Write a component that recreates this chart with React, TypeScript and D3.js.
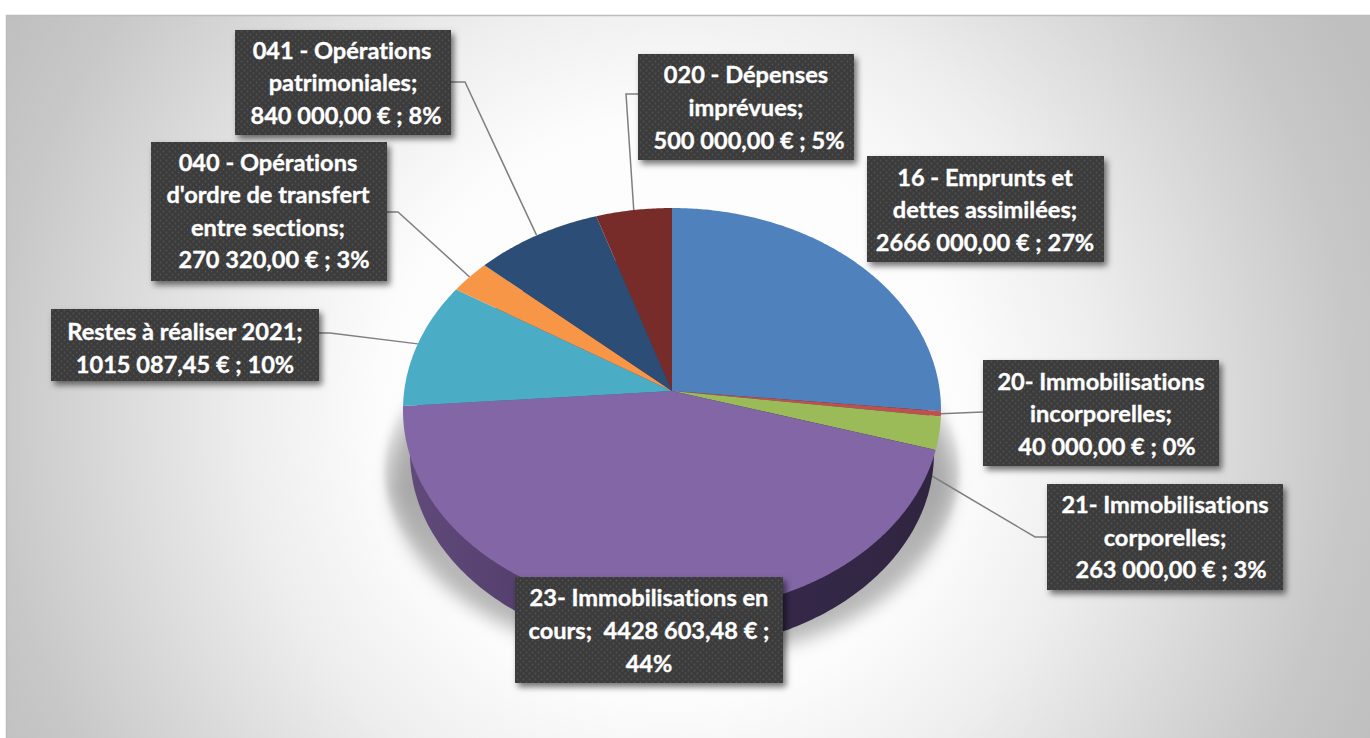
import React from "react";
import * as d3 from "d3";

const WIDTH = 1370;
const HEIGHT = 738;

const categories = [
  "16 - Emprunts et dettes assimilées",
  "20- Immobilisations incorporelles",
  "21- Immobilisations corporelles",
  "23- Immobilisations en cours",
  "Restes à réaliser 2021",
  "040 - Opérations d'ordre de transfert entre sections",
  "041 - Opérations patrimoniales",
  "020 - Dépenses imprévues",
];
const amounts = [2666000, 40000, 263000, 4428603.48, 1015087.45, 270320, 840000, 500000];
const colors = ["#4F81BD", "#C0504D", "#9BBB59", "#8266A5", "#4BACC6", "#F79646", "#2C4D75", "#772C2A"];

const labelLines = [
  ["16 - Emprunts et", "dettes assimilées;", "2666 000,00 € ; 27%"],
  ["20- Immobilisations", "incorporelles;", "40 000,00 € ; 0%"],
  ["21- Immobilisations", "corporelles;", "263 000,00 € ; 3%"],
  ["23- Immobilisations en", "cours;  4428 603,48 € ;", "44%"],
  ["Restes à réaliser 2021;", "1015 087,45 € ; 10%"],
  ["040 - Opérations", "d'ordre de transfert", "entre sections;", "270 320,00 € ; 3%"],
  ["041 - Opérations", "patrimoniales;", "840 000,00 € ; 8%"],
  ["020 - Dépenses", "imprévues;", "500 000,00 € ; 5%"],
];
const labelBoxes = [
  [867, 156, 237, 106],
  [983, 360, 236, 106],
  [1047, 484, 236, 106],
  [515, 577, 268, 106],
  [51, 309, 268, 72],
  [151, 142, 236, 139],
  [235, 30, 216, 105],
  [638, 54, 216, 106],
];
const lineCentres = [
  [985, 985, 985],
  [1101, 1101, 1107],
  [1165, 1165, 1171],
  [649, 649, 649],
  [185, 185],
  [268, 268, 268, 274],
  [342, 343, 346],
  [746, 746, 749],
];
const lineBaselines = [
  [186, 218, 251],
  [390, 422, 455],
  [513, 546, 578],
  [606, 639, 672],
  [340, 373],
  [171, 203, 236, 268],
  [59, 91, 124],
  [83, 116, 149],
];
// Leader lines: box side, elbow, and (when null) the slice's own rim midpoint
const leaderStarts: (number[] | null)[] = [null, [983, 412], [1047, 537], null, [319, 333], [387, 212], [451, 82], [638, 94]];
const leaderElbows: (number[] | null)[] = [null, null, [1035, 537], null, [330, 333], [398, 212], [465, 82], [626, 94]];
const leaderEnds: (number[] | null)[] = [null, null, [932, 476], null, null, null, null, null];

const PERSPECTIVE = -0.094;
const x = d3.scaleLinear().domain([-1, 1]).range([403, 941]);
const y = d3.scaleLinear().domain([-1, 1]).range([208, 612]);
const xBase = d3.scaleLinear().domain([-1, 1]).range([410, 934]);
const yBase = d3.scaleLinear().domain([-1, 1]).range([256, 650]);
const xShadow = d3.scaleLinear().domain([-1, 1]).range([392, 952]);
const yShadow = d3.scaleLinear().domain([-1, 1]).range([300, 660]);
const xEdge = d3.scaleLinear().domain([-1, 1]).range([385, 959]);
const yEdge = d3.scaleLinear().domain([-1, 1]).range([290, 650]);

// A tilted disc: the pie's rim stays an ellipse, the apex moves off its centre.
const project = (a: number): [number, number] => {
  const px = Math.sin(a);
  const py = -Math.cos(a);
  const w = 1 + PERSPECTIVE * py;
  return [x((px * Math.sqrt(1 - PERSPECTIVE * PERSPECTIVE)) / w), y((py + PERSPECTIVE) / w)];
};
const apex: [number, number] = [x(0), y(PERSPECTIVE)];

const pie = d3.pie<number>().sort(null).startAngle(0).endAngle(2 * Math.PI);
const arcs = pie(amounts);
const line = d3.line<[number, number]>();

const wedge = (a0: number, a1: number) => {
  const n = Math.max(2, Math.ceil((a1 - a0) / 0.01));
  const rim = d3.range(n + 1).map((i) => project(a0 + ((a1 - a0) * i) / n));
  return line([apex, ...rim, apex])! + "Z";
};
const ringAngles = d3.range(0, 2 * Math.PI, 0.02);
const ellipse = (sx: d3.ScaleLinear<number, number>, sy: d3.ScaleLinear<number, number>) =>
  line(ringAngles.map((a) => [sx(Math.sin(a)), sy(-Math.cos(a))] as [number, number]))! + "Z";

export default function App() {
  return (
    <svg
      width={WIDTH}
      height={HEIGHT}
      viewBox={`0 0 ${WIDTH} ${HEIGHT}`}
      style={{ position: "fixed", left: 0, top: 0, background: "#fff" }}
      fontFamily="Lato, 'Open Sans', sans-serif"
    >
      <defs>
        <radialGradient id="bg" gradientUnits="userSpaceOnUse" cx={672} cy={410} r={770}>
          <stop offset="0" stopColor="#ffffff" />
          <stop offset="0.38" stopColor="#fcfcfc" />
          <stop offset="0.55" stopColor="#eeeeee" />
          <stop offset="0.88" stopColor="#c8c8c8" />
          <stop offset="1" stopColor="#bfbfbf" />
        </radialGradient>
        <linearGradient id="side" x1="0" x2="1" y1="0" y2="0">
          <stop offset="0" stopColor="#604a7a" />
          <stop offset="0.25" stopColor="#523d6b" />
          <stop offset="0.5" stopColor="#493660" />
          <stop offset="0.7" stopColor="#35284a" />
          <stop offset="1" stopColor="#302540" />
        </linearGradient>
        <linearGradient id="edge" gradientUnits="userSpaceOnUse" x1="0" x2="0" y1="405" y2="560">
          <stop offset="0" stopColor="#9a9a9a" stopOpacity="0.1" />
          <stop offset="0.55" stopColor="#9a9a9a" stopOpacity="0.4" />
          <stop offset="1" stopColor="#9a9a9a" stopOpacity="0" />
        </linearGradient>
        <filter id="blur" x="-20%" y="-20%" width="140%" height="140%">
          <feGaussianBlur stdDeviation="9" />
        </filter>
        <filter id="softBlur" x="-10%" y="-10%" width="120%" height="120%">
          <feGaussianBlur stdDeviation="3" />
        </filter>
        <filter id="boxShadow" x="-10%" y="-10%" width="125%" height="130%">
          <feDropShadow dx="3" dy="4" stdDeviation="3" floodColor="#000" floodOpacity="0.55" />
        </filter>
        <pattern id="dots" width="6" height="6" patternUnits="userSpaceOnUse">
          <rect width="6" height="6" fill="#3b3b3b" />
          <circle cx="1.5" cy="1.5" r="0.9" fill="#515151" />
          <circle cx="4.5" cy="4.5" r="0.9" fill="#515151" />
        </pattern>
      </defs>

      <rect x={6} y={15} width={WIDTH - 6} height={HEIGHT - 15} fill="url(#bg)" />
      <path d={`M6.5 ${HEIGHT}V15.5H${WIDTH}`} fill="none" stroke="#bdbdbd" strokeWidth={1.5} />

      <path d={ellipse(xEdge, yEdge)} fill="url(#edge)" filter="url(#softBlur)" />
      <path d={ellipse(xShadow, yShadow)} fill="#8c8c8c" opacity={0.62} filter="url(#blur)" />

      <g fill="none" stroke="#7f7f7f" strokeWidth={1.5}>
        {arcs.map((a, i) => {
          const start = leaderStarts[i];
          if (!start) return null;
          const end = leaderEnds[i] ?? project((a.startAngle + a.endAngle) / 2);
          const elbow = leaderElbows[i];
          const pts = (elbow ? [start, elbow, end] : [start, end]) as [number, number][];
          return <path key={i} d={line(pts)!} />;
        })}
      </g>

      <path d={ellipse(xBase, yBase)} fill="url(#side)" />
      {arcs.map((a, i) => (
        <path key={categories[i]} d={wedge(a.startAngle, a.endAngle)} fill={colors[i]} />
      ))}

      {labelBoxes.map((b, i) => (
        <g key={i}>
          <rect x={b[0]} y={b[1]} width={b[2]} height={b[3]} fill="url(#dots)" filter="url(#boxShadow)" />
          {labelLines[i].map((t, j) => (
            <text
              key={j}
              x={lineCentres[i][j]}
              y={lineBaselines[i][j]}
              textAnchor="middle"
              fill="#fff"
              stroke="#fff"
              strokeWidth={0.35}
              fontWeight={700}
              fontSize={23.6}
              xmlSpace="preserve"
              style={{ fontVariantLigatures: "none" }}
            >
              {t}
            </text>
          ))}
        </g>
      ))}
    </svg>
  );
}
